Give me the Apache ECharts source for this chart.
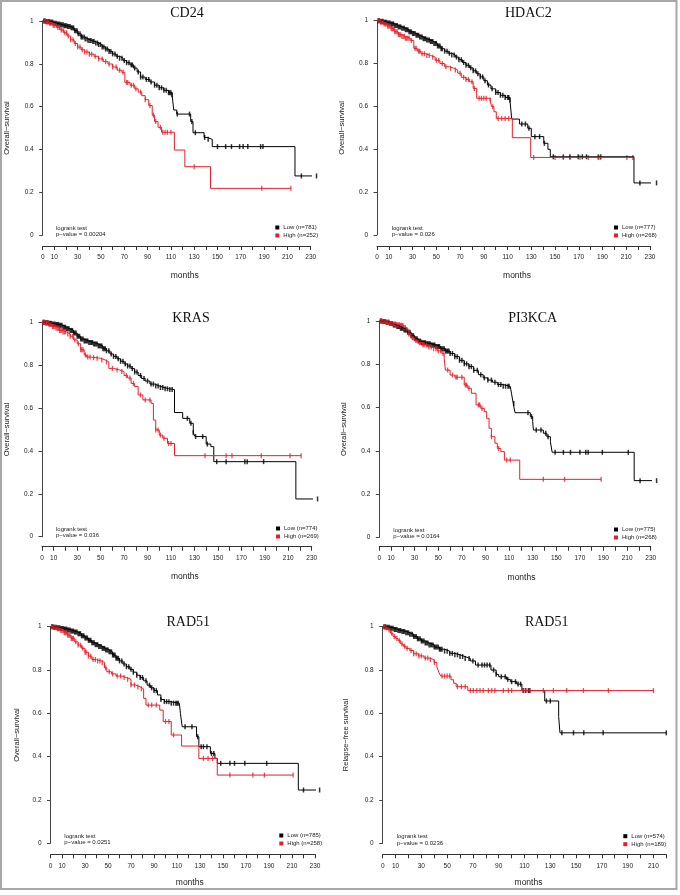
<!DOCTYPE html>
<html>
<head>
<meta charset="utf-8">
<script src="https://cdn.jsdelivr.net/npm/echarts@6/dist/echarts.min.js"></script>
<style>
html,body{margin:0;padding:0;background:#fff;}
#km{width:680px;height:895px;}
</style>
</head>
<body>
<div id="km"></div>
<script>
// texts of the six panels
var geneNames = ['CD24', 'HDAC2', 'KRAS', 'PI3KCA', 'RAD51', 'RAD51'];
var survivalNames = ['Overall−survival', 'Overall−survival', 'Overall−survival', 'Overall−survival', 'Overall−survival', 'Relapse−free survival'];
var pValues = ['0.00204', '0.026', '0.036', '0.0164', '0.0251', '0.0236'];
var lowNames = ['Low (n=781)', 'Low (n=777)', 'Low (n=774)', 'Low (n=775)', 'Low (n=785)', 'Low (n=574)'];
var highNames = ['High (n=252)', 'High (n=268)', 'High (n=269)', 'High (n=268)', 'High (n=258)', 'High (n=189)'];
var monthMax = [230, 230, 230, 230, 230, 220];
var monthLabels = [0, 10, 30, 50, 70, 90, 110, 130, 150, 170, 190, 210, 230];
var survTicks = [0, 0.2, 0.4, 0.6, 0.8, 1];

// KM curves: [month, survival] at each drop
var cd24Low = [[0,1],[3,0.998],[6,0.995],[9,0.99],[12,0.986],[15,0.982],[18,0.978],[21,0.974],[24,0.968],[27,0.955],[30,0.94],[33,0.925],[36,0.916],[39,0.909],[42,0.904],[45,0.897],[48,0.89],[51,0.879],[54,0.869],[57,0.858],[60,0.846],[63,0.835],[66,0.826],[69,0.815],[72,0.805],[75,0.795],[78,0.78],[81,0.762],[84,0.738],[88,0.727],[92,0.715],[96,0.7],[100,0.688],[104,0.676],[108,0.665],[111,0.655],[112.5,0.584],[115,0.565],[127,0.53],[129,0.478],[138.5,0.456],[141,0.447],[145.5,0.413],[216.5,0.276],[235,0.276]];
var cd24LowCens = [1,2,3,4.5,5.5,6.5,7.5,8.5,9.5,10.5,11.5,12.5,13.5,14.5,15.5,16.5,17.5,18.5,19.5,20.5,21.5,22.5,23.5,24.5,25.5,26.5,27.5,28.5,29.5,30.5,32,33,34,35.5,36.5,38,39,40.5,41.5,43,44,45.5,47,48,49.5,51,52.5,54,55.5,57,58.5,60,62,64,66,68,70,72,74,76,77,79,82,84,86,89,91,93,96,98,100,102,104,106,108,109,110,111,115.5,126,128,131,139,142,150,157,162,169,172,176,187,189,222,235];
var cd24High = [[0,1],[3,0.995],[6,0.99],[9,0.98],[12,0.97],[15,0.958],[18,0.945],[21,0.93],[24,0.912],[27,0.895],[30,0.878],[33,0.866],[36,0.855],[40,0.845],[44,0.835],[48,0.823],[52,0.81],[56,0.799],[60,0.785],[64,0.77],[68,0.76],[70.5,0.713],[75,0.7],[79,0.683],[82,0.668],[85,0.651],[88,0.632],[91,0.605],[94,0.56],[96,0.53],[99,0.503],[102,0.48],[113,0.397],[122,0.319],[144,0.218],[213,0.218]];
var cd24HighCens = [1,2,3,4,5,6,7,8,9,10,11.5,13,14.5,16,17.5,19,20.5,22,24,26,28,30,32,34,36,38,40,42,45,48,51,54,57,60,63,66,69,72,73,76,78,80,84,88,92,95,97,101,103,105,107,110,130,188,213];

var hdac2Low = [[0,1],[3,0.997],[6,0.993],[9,0.989],[12,0.985],[15,0.978],[18,0.971],[21,0.965],[24,0.958],[27,0.948],[30,0.94],[33,0.932],[36,0.924],[39,0.916],[42,0.91],[45,0.903],[48,0.894],[51,0.882],[54,0.869],[57,0.858],[60,0.848],[63,0.84],[66,0.83],[69,0.818],[72,0.805],[75,0.792],[78,0.78],[81,0.766],[84,0.752],[87,0.738],[90,0.72],[93,0.7],[96,0.682],[100,0.665],[104,0.652],[108,0.642],[112,0.63],[113.5,0.541],[120,0.518],[127,0.498],[130,0.459],[140.5,0.428],[144,0.4],[146,0.365],[216.5,0.243],[235.5,0.243]];
var hdac2LowCens = [1,2,3,4,5,6,7,8,9,10,11,12,13,14,15,16,17,18,19,20,21,22,23,24,25,26,27,28,29,30,31,32,33,34,35,36,37,38,39,40,41,42,43,44,45,46,47,48,49,50,51,52,53,54,55,57,59,61,63,65,67,69,71,73,75,77,79,81,83,85,87,89,91,94,97,100,102,104,106,108,110,111,112,122,125,128,133,137,141,148.5,157,162.5,169.5,173,176.5,186.5,188.5,221.5,235.5];
var hdac2High = [[0,1],[3,0.993],[6,0.985],[9,0.974],[12,0.962],[15,0.948],[18,0.935],[21,0.926],[24,0.918],[28,0.908],[31,0.871],[34,0.858],[37,0.846],[41,0.838],[45,0.83],[49,0.815],[53,0.8],[57,0.785],[61,0.778],[65,0.77],[68,0.755],[71,0.736],[75,0.726],[78,0.715],[81,0.684],[84,0.638],[95,0.63],[96.5,0.599],[98.5,0.575],[100.5,0.544],[114,0.454],[129.5,0.362],[215.5,0.362]];
var hdac2HighCens = [1,2,3,4,5,6,7,8,9,10,11,12,13,14,15,16,17,18,19,20,21,22,23,24,25,26,27,29,32,33,35,36,38,40,42,44,47,50,52,55,58,62,66,70,73,75,77,80,82,86,88,90,92,95.5,97.5,102,105,108,111,132,150,157,162.5,171,178,186.5,188,210.5,215.5];

var krasLow = [[0,1],[3,0.998],[6,0.995],[9,0.992],[12,0.99],[15,0.986],[18,0.977],[21,0.97],[24,0.962],[27,0.95],[30,0.935],[33,0.922],[36,0.913],[40,0.906],[44,0.899],[48,0.89],[52,0.877],[55,0.867],[58,0.852],[61,0.841],[64,0.83],[67,0.818],[70,0.806],[73,0.796],[76,0.784],[79,0.768],[82,0.752],[85,0.738],[88,0.726],[92,0.712],[96,0.703],[100,0.696],[104,0.69],[108,0.686],[113,0.579],[120,0.552],[126,0.529],[129,0.485],[130.5,0.467],[140,0.432],[144,0.42],[146.5,0.35],[216.5,0.176],[235,0.176]];
var krasLowCens = [1,2,3,4,5,6,7,8,9,10,11,12,13,14,15,16,17,18,19,20,21,22,23,24,25,26,27,28,29,30,31,32,33,34,35,36,37,38,39,40,41,42,43,44,45,46,47,48,49,50,51,52,53,54,55,57,59,61,63,65,67,69,71,73,75,77,79,81,84,87,90,93,95,97,99,101,103,105,107,109,111,124,127,129,131,137,141,149,157,173,175,189,235];
var krasHigh = [[0,1],[3,0.997],[6,0.99],[9,0.98],[12,0.972],[15,0.962],[18,0.955],[21,0.946],[24,0.935],[27,0.918],[30,0.9],[33,0.872],[36,0.848],[38,0.838],[42,0.835],[46,0.832],[50,0.824],[54,0.815],[57,0.785],[61,0.778],[66,0.77],[70,0.752],[73,0.74],[76,0.715],[79,0.7],[82,0.661],[86,0.638],[93,0.622],[95,0.544],[97,0.498],[100,0.474],[103,0.459],[107,0.435],[113,0.378],[221,0.378]];
var krasHighCens = [1,2,3,4,5,6,7,8,9,10,11,12,13,14,15,16,17,18,19,20,22,24,26,28,31,33,34,35,37,39,41,44,47,51,55,60,64,68,72,75,78,84,88,92,97,99,101,104,108,110,139,157,162,187,211.5,221];

var pik3caLow = [[0,1],[3,0.998],[6,0.994],[9,0.988],[12,0.981],[15,0.974],[18,0.966],[21,0.958],[24,0.948],[27,0.932],[30,0.918],[33,0.907],[36,0.9],[40,0.895],[44,0.889],[48,0.882],[52,0.872],[56,0.861],[60,0.85],[64,0.835],[68,0.818],[72,0.802],[76,0.789],[80,0.772],[84,0.752],[88,0.737],[92,0.727],[96,0.717],[100,0.706],[105,0.698],[111,0.692],[112,0.666],[113.5,0.619],[115,0.576],[128,0.558],[130,0.535],[130.6,0.496],[139,0.481],[142,0.465],[145,0.442],[146.5,0.393],[216,0.262],[235,0.262]];
var pik3caLowCens = [1,2,3,4,5,6,7,8,9,10,11,12,13,14,15,16,17,18,19,20,21,22,23,24,25,26,27,28,29,30,31,32,33,34,35,36,37,38,39,40,41,42,43,44,45,46,47,48,49,50,51,52,53,54,55,56,57,58,59,60,62,64,66,68,70,72,74,76,78,80,83,86,89,92,95,98,101,103,105,107,109,110,114,126,129,133,137,141,143,149,156,162,170,175,177,189,211,221,235];
var pik3caHigh = [[0,1],[3,0.998],[6,0.994],[9,0.989],[12,0.986],[15,0.983],[18,0.98],[21,0.97],[23,0.958],[25,0.94],[27,0.922],[30,0.91],[33,0.9],[37,0.89],[41,0.88],[45,0.872],[49,0.862],[53,0.85],[55,0.827],[56,0.773],[60,0.75],[64,0.74],[72,0.704],[75,0.689],[78,0.666],[82,0.612],[86,0.596],[89,0.581],[91,0.55],[93,0.504],[95,0.465],[98,0.435],[100,0.411],[103,0.396],[106,0.357],[119,0.268],[188,0.268]];
var pik3caHighCens = [1,2,3,4,5,6,7,8,9,10,11,12,13,14,15,16,17,18,19,20,22,24,25,26,28,29,31,32,34,35,37,38,40,42,44,46,48,50,52,54,58,62,65,66,70,73,74,76,84,85,87,95,101,108,111,139,157,188];

var rad51OsLow = [[0,1],[3,0.998],[6,0.995],[9,0.992],[12,0.989],[15,0.985],[18,0.98],[21,0.975],[24,0.968],[27,0.958],[30,0.948],[33,0.937],[36,0.926],[39,0.917],[42,0.909],[45,0.9],[48,0.893],[51,0.884],[54,0.869],[57,0.854],[60,0.842],[63,0.828],[66,0.815],[69,0.803],[72,0.79],[75,0.776],[78,0.765],[81,0.75],[84,0.73],[87,0.718],[90,0.705],[93,0.685],[96,0.664],[99,0.654],[104,0.647],[112,0.642],[113,0.6],[114.5,0.538],[127,0.492],[129,0.446],[139,0.415],[143,0.392],[145,0.369],[215.5,0.246],[234,0.246]];
var rad51OsLowCens = [1,2,3,4,5,6,7,8,9,10,11,12,13,14,15,16,17,18,19,20,21,22,23,24,25,26,27,28,29,30,31,32,33,34,35,36,37,38,39,40,41,42,43,44,45,46,47,48,49,50,51,52,53,54,55,56,57,58,59,60,62,64,66,68,70,72,75,78,80,83,86,88,90,92,96,99,101,103,105,107,109,110,111,117,123,128,131,133,136,140,142,148,156,160,169,188,220,234];
var rad51OsHigh = [[0,1],[3,0.996],[6,0.99],[9,0.982],[12,0.972],[15,0.96],[18,0.946],[21,0.93],[24,0.915],[27,0.9],[30,0.882],[33,0.864],[36,0.848],[40,0.842],[44,0.835],[47,0.81],[49,0.792],[53,0.782],[57,0.772],[62,0.765],[66,0.757],[70,0.731],[74,0.722],[78,0.713],[81,0.669],[83,0.638],[95,0.615],[98,0.562],[105,0.5],[114,0.449],[129,0.392],[145,0.315],[211,0.315]];
var rad51OsHighCens = [1,2,3,4,5,6,7,8,9,10,11,12,13,14,15,16,17,18,19,20,22,24,26,28,30,31,33,35,37,39,41,43,45,48,51,54,58,61,64,67,70,73,76,79,85,88,92,100,103,107,133,137,141,156,176,186,211];

var rad51RfsLow = [[0,1],[3,0.998],[6,0.993],[9,0.987],[12,0.982],[15,0.978],[18,0.972],[21,0.965],[24,0.955],[27,0.944],[30,0.934],[33,0.925],[36,0.916],[40,0.906],[44,0.896],[48,0.887],[52,0.877],[56,0.87],[60,0.862],[64,0.853],[68,0.842],[72,0.823],[84,0.8],[88,0.78],[90,0.769],[96,0.757],[99,0.746],[104,0.735],[108,0.705],[125.7,0.657],[136.5,0.585],[137.5,0.51],[220,0.51]];
var rad51RfsLowCens = [1,2,3,4,5,6,7,8,9,10,11,12,13,14,15,16,17,18,19,20,21,22,23,24,25,26,27,28,29,30,31,32,33,34,35,36,37,38,39,40,41,42,43,44,45,46,48,50,52,54,56,58,60,62,64,67,70,74,77,79,81,83,86,88,92,95,97,100,103,105,107,109,111,113,114,127,130,139,148,156,171,220];
var rad51RfsHigh = [[0,1],[2,0.995],[4,0.985],[6,0.97],[8,0.955],[10,0.945],[12,0.935],[14,0.92],[16,0.91],[18,0.9],[21,0.89],[24,0.875],[28,0.865],[32,0.855],[36,0.848],[40,0.835],[42,0.815],[43.5,0.79],[45,0.772],[53,0.755],[55,0.739],[57,0.723],[66,0.705],[210,0.705]];
var rad51RfsHighCens = [1,2,3,5,7,9,11,13,15,17,19,22,24,26,28,30,33,35,37,40,46,48,50,52,58,61,64,68,70.3,73,75.5,78,82,84.6,87,93.6,97.5,100,109,110.4,114.3,124.6,132.4,142.7,155.7,175.1,210];

var lowCurves = [cd24Low, hdac2Low, krasLow, pik3caLow, rad51OsLow, rad51RfsLow];
var lowCens = [cd24LowCens, hdac2LowCens, krasLowCens, pik3caLowCens, rad51OsLowCens, rad51RfsLowCens];
var highCurves = [cd24High, hdac2High, krasHigh, pik3caHigh, rad51OsHigh, rad51RfsHigh];
var highCens = [cd24HighCens, hdac2HighCens, krasHighCens, pik3caHighCens, rad51OsHighCens, rad51RfsHighCens];

// where each panel sits on the page
var panels = [
  {left: 42.7, top: 21, width: 268, height: 214, xOff: 11, xGap: 25, yGap: 32, pad: 16, tx: 187, ty: 13.3, lx: 275.3, ly: 224.5, px: 56, py: 228},
  {left: 377, top: 20.7, width: 273, height: 214.3, xOff: 11, xGap: 25, yGap: 31, pad: 7, tx: 528.3, ty: 13.3, lx: 614, ly: 224.5, px: 391.7, py: 228},
  {left: 42, top: 322.3, width: 269.7, height: 214.4, xOff: 10, xGap: 25, yGap: 31, pad: 16, tx: 191, ty: 318.3, lx: 276, ly: 525.5, px: 56, py: 529},
  {left: 379.3, top: 321, width: 271.4, height: 216.3, xOff: 9.4, xGap: 26, yGap: 31.5, pad: 13, tx: 532.7, ty: 318.3, lx: 614, ly: 526.5, px: 393.3, py: 530},
  {left: 50.5, top: 626.7, width: 264.5, height: 216.6, xOff: 11, xGap: 23.5, yGap: 29.5, pad: 14, tx: 188.3, ty: 622.3, lx: 279.3, ly: 832.5, px: 64.3, py: 836},
  {left: 382.7, top: 626.7, width: 283.6, height: 216.6, xOff: 11, xGap: 24, yGap: 33, pad: 8, tx: 546.7, ty: 622.3, lx: 623.3, ly: 833.2, px: 396.7, py: 836.7}
];

var SANS = '"Liberation Sans", Arial, sans-serif';
var SERIF = '"Liberation Serif", "Times New Roman", serif';
var LOW_COLOR = '#000';
var HIGH_COLOR = '#e3202a';

// survival level of a curve at month t (censor marks sit on the curve)
function survAt(steps, t) {
  var s = steps[0][1];
  for (var i = 0; i < steps.length; i++) {
    if (steps[i][0] <= t) s = steps[i][1]; else break;
  }
  return s;
}
function censorPoints(steps, times) {
  return times.map(function (t) { return [t, survAt(steps, t)]; });
}

var grids = [], xAxes = [], yAxes = [], series = [], legends = [], graphics = [];

for (var i = 0; i < 6; i++) {
  var p = panels[i];
  grids.push({left: p.left, top: p.top, width: p.width, height: p.height, containLabel: false});
  xAxes.push({
    type: 'value', gridIndex: i, min: 0, max: monthMax[i], interval: 10,
    offset: p.xOff,
    name: 'months', nameLocation: 'middle', nameGap: p.xGap,
    nameTextStyle: {fontSize: 8.5, fontFamily: SANS, color: '#222', padding: [0, 0, 0, p.pad]},
    axisLine: {onZero: false, lineStyle: {color: '#333', width: 1}},
    axisTick: {length: 4, lineStyle: {color: '#333'}},
    axisLabel: {
      fontSize: 6.5, fontFamily: SANS, color: '#222', margin: 8,
      formatter: function (v) { return monthLabels.indexOf(v) >= 0 ? String(v) : ''; }
    },
    splitLine: {show: false}
  });
  yAxes.push({
    type: 'value', gridIndex: i, min: 0, max: 1, interval: 0.2,
    name: survivalNames[i], nameLocation: 'middle', nameGap: p.yGap,
    nameTextStyle: {fontSize: 7.5, fontFamily: SANS, color: '#222'},
    axisLine: {show: true, onZero: false, lineStyle: {color: '#444', width: 1}},
    axisTick: {show: true, length: 3.5, lineStyle: {color: '#444'}},
    axisLabel: {
      fontSize: 6.5, fontFamily: SANS, color: '#222', margin: 9,
      formatter: function (v) { return survTicks.indexOf(v) >= 0 ? String(v) : ''; }
    },
    splitLine: {show: false}
  });

  series.push({
    name: lowNames[i], type: 'line', xAxisIndex: i, yAxisIndex: i, step: 'end',
    data: lowCurves[i], showSymbol: false, symbol: 'none', clip: false,
    color: LOW_COLOR, itemStyle: {color: LOW_COLOR},
    lineStyle: {color: LOW_COLOR, width: 1}
  });
  series.push({
    name: highNames[i], type: 'line', xAxisIndex: i, yAxisIndex: i, step: 'end',
    data: highCurves[i], showSymbol: false, symbol: 'none', clip: false,
    color: HIGH_COLOR, itemStyle: {color: HIGH_COLOR},
    lineStyle: {color: HIGH_COLOR, width: 1}
  });
  series.push({
    name: lowNames[i], type: 'scatter', xAxisIndex: i, yAxisIndex: i, clip: false,
    data: censorPoints(lowCurves[i], lowCens[i]),
    symbol: 'rect', symbolSize: [1.5, 5], itemStyle: {color: LOW_COLOR}
  });
  series.push({
    name: highNames[i], type: 'scatter', xAxisIndex: i, yAxisIndex: i, clip: false,
    data: censorPoints(highCurves[i], highCens[i]),
    symbol: 'rect', symbolSize: [1.3, 5], itemStyle: {color: HIGH_COLOR}
  });

  legends.push({
    data: [{name: lowNames[i], itemStyle: {color: LOW_COLOR}}, {name: highNames[i], itemStyle: {color: HIGH_COLOR}}],
    left: p.lx, top: p.ly, orient: 'vertical', padding: 0, itemGap: 2,
    itemWidth: 4, itemHeight: 4, icon: 'rect', selectedMode: false,
    textStyle: {fontSize: 6, fontFamily: SANS, color: '#222', lineHeight: 5, padding: [0, 0, 0, -1]}
  });

  graphics.push({
    type: 'text', x: p.tx, y: p.ty,
    style: {text: geneNames[i], font: '14px ' + SERIF, fill: '#111', align: 'center', verticalAlign: 'middle'}
  });
  graphics.push({
    type: 'text', x: p.px, y: p.py,
    style: {text: 'logrank test', font: '6px ' + SANS, fill: '#222', align: 'left', verticalAlign: 'middle'}
  });
  graphics.push({
    type: 'text', x: p.px, y: p.py + 6.5,
    style: {text: 'p−value = ' + pValues[i], font: '6px ' + SANS, fill: '#222', align: 'left', verticalAlign: 'middle'}
  });
}

// light frame round the figure
graphics.push({
  type: 'rect', shape: {x: 1, y: 1, width: 675.5, height: 888},
  style: {fill: null, stroke: '#a8a8a8', lineWidth: 2}, silent: true
});

var chart = echarts.init(document.getElementById('km'), null, {renderer: 'canvas'});
chart.setOption({
  animation: false,
  backgroundColor: '#fff',
  grid: grids,
  xAxis: xAxes,
  yAxis: yAxes,
  legend: legends,
  series: series,
  graphic: graphics
});
window.onresize = function () { chart.resize(); };
</script>
</body>
</html>
